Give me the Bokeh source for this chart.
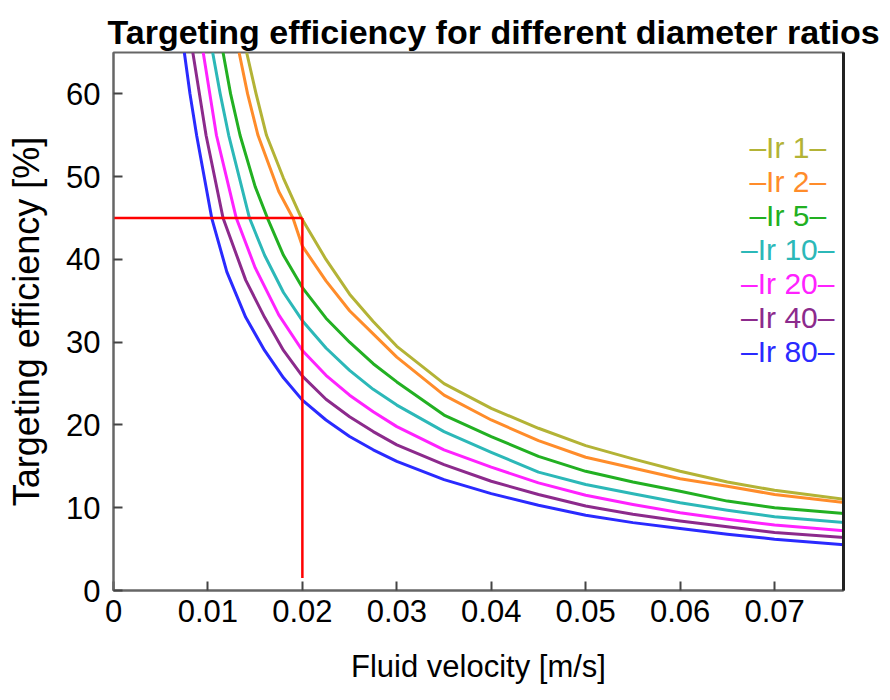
from bokeh.plotting import figure
from bokeh.models import Range1d, FixedTicker, LinearAxis, Label
from bokeh.embed import file_html
from bokeh.resources import INLINE

# ---- data ----
series_names = ["Ir 1", "Ir 2", "Ir 5", "Ir 10", "Ir 20", "Ir 40", "Ir 80"]
series_colors = ["#b3b336", "#ff8c2a", "#22b022", "#2cb8b8", "#ff22ff", "#8c2a8c", "#2a2aff"]

v_ir1 = [0.0141, 0.0151, 0.0162, 0.0180, 0.0199, 0.0225, 0.025, 0.0275, 0.030, 0.035, 0.040, 0.045, 0.050, 0.055, 0.060, 0.065, 0.070, 0.0775]
e_ir1 = [65.0, 60.0, 55.0, 49.8, 45.0, 40.0, 35.8, 32.5, 29.5, 25.0, 22.0, 19.6, 17.5, 15.9, 14.4, 13.1, 12.1, 11.0]

v_ir2 = [0.0133, 0.0142, 0.0153, 0.0175, 0.0190, 0.020, 0.0225, 0.025, 0.0275, 0.030, 0.035, 0.040, 0.045, 0.050, 0.055, 0.060, 0.065, 0.070, 0.0775]
e_ir2 = [65.0, 60.0, 55.0, 48.2, 45.0, 41.6, 37.4, 33.8, 31.0, 28.2, 23.6, 20.6, 18.1, 16.1, 14.8, 13.5, 12.6, 11.6, 10.6]

v_ir5 = [0.0116, 0.0124, 0.0134, 0.0150, 0.0163, 0.018, 0.020, 0.0225, 0.025, 0.0275, 0.030, 0.035, 0.040, 0.045, 0.050, 0.055, 0.060, 0.065, 0.070, 0.0775]
e_ir5 = [65.0, 60.0, 55.0, 48.8, 45.0, 40.5, 36.6, 32.9, 30.0, 27.4, 25.2, 21.2, 18.6, 16.2, 14.4, 13.1, 12.0, 10.8, 10.0, 9.3]

v_ir10 = [0.0105, 0.0113, 0.0122, 0.0144, 0.016, 0.018, 0.020, 0.0225, 0.025, 0.0275, 0.030, 0.035, 0.040, 0.045, 0.050, 0.055, 0.060, 0.065, 0.070, 0.0775]
e_ir10 = [65.0, 60.0, 55.0, 45.0, 40.5, 36.0, 32.6, 29.3, 26.6, 24.3, 22.4, 19.2, 16.7, 14.3, 12.8, 11.7, 10.6, 9.7, 8.9, 8.2]

v_ir20 = [0.0095, 0.0102, 0.0109, 0.0130, 0.015, 0.0175, 0.020, 0.0225, 0.025, 0.0275, 0.030, 0.035, 0.040, 0.045, 0.050, 0.055, 0.060, 0.065, 0.070, 0.0775]
e_ir20 = [65.0, 60.0, 55.0, 45.0, 39.0, 33.3, 29.0, 26.0, 23.6, 21.6, 19.8, 17.0, 14.9, 13.0, 11.5, 10.4, 9.4, 8.6, 7.9, 7.2]

v_ir40 = [0.0084, 0.0091, 0.0098, 0.0116, 0.014, 0.016, 0.018, 0.020, 0.0225, 0.025, 0.0275, 0.030, 0.035, 0.040, 0.045, 0.050, 0.055, 0.060, 0.065, 0.070, 0.0775]
e_ir40 = [65.0, 60.0, 55.0, 45.0, 37.5, 33.0, 29.0, 25.9, 23.1, 21.0, 19.2, 17.6, 15.2, 13.2, 11.6, 10.2, 9.2, 8.4, 7.7, 7.0, 6.4]

v_ir80 = [0.0075, 0.0081, 0.0088, 0.0104, 0.012, 0.014, 0.016, 0.018, 0.020, 0.0225, 0.025, 0.0275, 0.030, 0.035, 0.040, 0.045, 0.050, 0.055, 0.060, 0.065, 0.070, 0.0775]
e_ir80 = [65.0, 60.0, 55.0, 45.0, 38.5, 33.0, 29.0, 25.7, 23.0, 20.6, 18.6, 17.0, 15.6, 13.4, 11.7, 10.3, 9.1, 8.2, 7.5, 6.8, 6.2, 5.5]

series_v = [v_ir1, v_ir2, v_ir5, v_ir10, v_ir20, v_ir40, v_ir80]
series_e = [e_ir1, e_ir2, e_ir5, e_ir10, e_ir20, e_ir40, e_ir80]

target_v = 0.02
target_eff = 45.0
target_low = 1.5

x_ticks = [0, 0.01, 0.02, 0.03, 0.04, 0.05, 0.06, 0.07]
x_tick_labels = ["0", "0.01", "0.02", "0.03", "0.04", "0.05", "0.06", "0.07"]
y_ticks = [0, 10, 20, 30, 40, 50, 60]
y_tick_labels = ["0", "10", "20", "30", "40", "50", "60"]

FONT = "Liberation Sans"

p = figure(width=890, height=700, output_backend="svg", toolbar_location=None,
           x_range=Range1d(0, 0.0773), y_range=Range1d(0, 65))
p.min_border_left = 113
p.min_border_right = 47
p.min_border_top = 52
p.min_border_bottom = 110
p.background_fill_color = "white"
p.border_fill_color = "white"
p.grid.visible = False
p.outline_line_color = "#666666"
p.outline_line_width = 2

p.title.text = "Targeting efficiency for different diameter ratios"
p.title.text_font = FONT
p.title.text_font_size = "34px"
p.title.text_font_style = "bold"
p.title.text_color = "black"
p.title.align = "left"
p.title.offset = -6
p.title.standoff = 4

for ax in (p.xaxis[0], p.yaxis[0]):
    ax.axis_line_color = "#666666"
    ax.axis_line_width = 2
    ax.major_tick_line_color = "#444444"
    ax.major_tick_line_width = 2
    ax.major_tick_in = 9
    ax.major_tick_out = 0
    ax.minor_tick_line_color = None
    ax.major_label_text_font = FONT
    ax.major_label_text_font_size = "31px"
    ax.major_label_text_color = "black"
    ax.axis_label_text_font = FONT
    ax.axis_label_text_font_style = "normal"
    ax.axis_label_text_color = "black"

p.xaxis.axis_label_text_font_size = "31px"
p.yaxis.axis_label_text_font_size = "36px"
p.xaxis.ticker = FixedTicker(ticks=x_ticks)
p.xaxis.major_label_overrides = dict(zip(x_ticks, x_tick_labels))
p.yaxis.ticker = FixedTicker(ticks=y_ticks)
p.yaxis.major_label_overrides = dict(zip(y_ticks, y_tick_labels))
p.xaxis.axis_label = "Fluid velocity [m/s]"
p.yaxis.axis_label = "Targeting efficiency [%]"
p.xaxis.major_label_standoff = 9
p.yaxis.major_label_standoff = 13
p.xaxis.axis_label_standoff = 24
p.yaxis.axis_label_standoff = 16

right = LinearAxis(axis_line_color="#222222", axis_line_width=3,
                   major_tick_line_color=None, minor_tick_line_color=None,
                   major_label_text_font_size="0px")
right.ticker = FixedTicker(ticks=[])
p.add_layout(right, "right")

for vs, es, col in zip(series_v, series_e, series_colors):
    p.line(vs, es, line_color=col, line_width=3, line_join="round")

p.line([0, target_v], [target_eff, target_eff], line_color="#ff0000", line_width=2.5)
p.line([target_v, target_v], [target_eff, target_low], line_color="#ff0000", line_width=2.5)

leg_x = 0.0714
leg_top = 53.5
leg_step = 4.1
for i, (name, col) in enumerate(zip(series_names, series_colors)):
    p.add_layout(Label(x=leg_x, y=leg_top - i * leg_step, text="\u2013" + name + "\u2013",
                       text_color=col, text_font=FONT, text_font_size="30px",
                       text_align="center", text_baseline="middle"))

open("out.html", "w").write(file_html(p, INLINE))
